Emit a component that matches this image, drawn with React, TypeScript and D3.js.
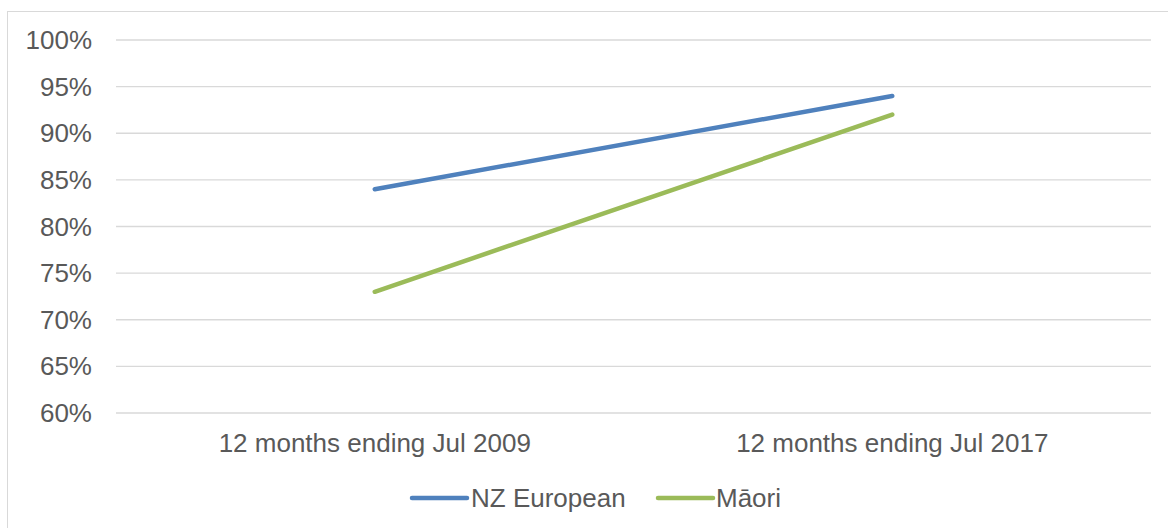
import React from 'react';
import * as d3 from 'd3';

const categories = ['12 months ending Jul 2009', '12 months ending Jul 2017'];
const nzEuropean = [0.84, 0.94];
const maori = [0.73, 0.92];
const yTicks = [0.6, 0.65, 0.7, 0.75, 0.8, 0.85, 0.9, 0.95, 1.0];

const series = [
  { name: 'NZ European', values: nzEuropean, color: '#4F81BD' },
  { name: 'Māori', values: maori, color: '#9BBB59' },
];

const svgWidth = 1168, svgHeight = 528;
const margin = { top: 40, right: 17, bottom: 115, left: 116 };
const width = svgWidth - margin.left - margin.right;
const height = svgHeight - margin.top - margin.bottom;

const App = () => {
  const xScale = d3.scaleBand<string>()
    .domain(categories)
    .range([0, width]);

  const yScale = d3.scaleLinear()
    .domain([0.6, 1.0])
    .range([height, 0]);

  const line = d3.line<number>()
    .x((d, i) => (xScale(categories[i]) ?? 0) + xScale.bandwidth() / 2)
    .y(d => yScale(d));

  const fmt = d3.format('.0%');
  const font = 'Liberation Sans, Arial, sans-serif';
  const fs = 26;

  // legend layout
  const legendY = 498;
  const legendItems = [
    { x: 412, textX: 471 },
    { x: 658, textX: 716 },
  ];

  return <div style={{ position: 'absolute', left: 0, top: 0 }}>
    <svg width={svgWidth} height={svgHeight} style={{ display: 'block' }}>
      <rect x={0} y={0} width={svgWidth} height={svgHeight} fill='#fff' />
      {/* chart border */}
      <rect x={7.5} y={11.5} width={svgWidth} height={svgHeight} fill='none' stroke='#d9d9d9' />
      <g transform={`translate(${margin.left}, ${margin.top})`}>
        {/* y grid */}
        {yTicks.map(t => <g key={t}>
          <line x1={0} x2={width} y1={yScale(t)} y2={yScale(t)} stroke='#d9d9d9' strokeWidth={1.3} />
          <text
            x={-24}
            y={yScale(t)}
            textAnchor='end'
            dominantBaseline='central'
            fill='#595959'
            fontSize={fs}
            fontFamily={font}
          >{fmt(t)}</text>
        </g>)}
        {/* x labels */}
        {categories.map(c => <text
          key={c}
          x={(xScale(c) ?? 0) + xScale.bandwidth() / 2}
          y={height + 30}
          textAnchor='middle'
          dominantBaseline='central'
          fill='#595959'
          fontSize={fs}
          fontFamily={font}
        >{c}</text>)}
        {/* lines */}
        {series.map(s => <path
          key={s.name}
          d={line(s.values) ?? ''}
          fill='none'
          stroke={s.color}
          strokeWidth={4.5}
          strokeLinecap='round'
        />)}
      </g>
      {/* legend */}
      {series.map((s, i) => <g key={s.name}>
        <line
          x1={legendItems[i].x}
          x2={legendItems[i].x + 55}
          y1={legendY}
          y2={legendY}
          stroke={s.color}
          strokeWidth={4.5}
          strokeLinecap='round'
        />
        <text
          x={legendItems[i].textX}
          y={legendY}
          dominantBaseline='central'
          fill='#595959'
          fontSize={fs}
          fontFamily={font}
        >{s.name}</text>
      </g>)}
    </svg>
  </div>;
};

export default App;
